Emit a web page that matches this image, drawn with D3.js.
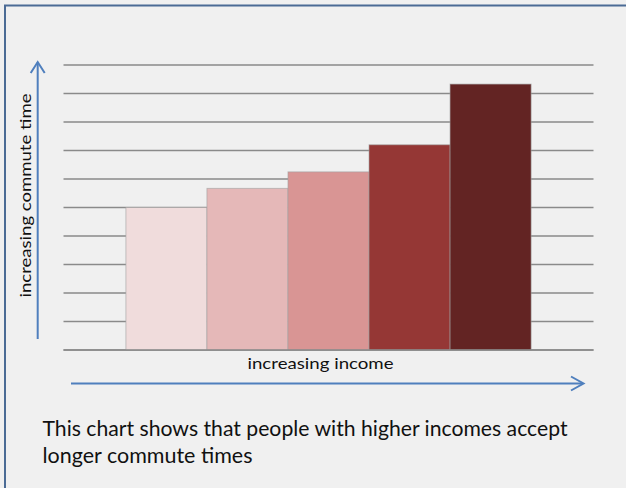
<!DOCTYPE html>
<html>
<head>
<meta charset="utf-8">
<script src="https://cdn.jsdelivr.net/npm/d3@7"></script>
<style>
  html, body { margin: 0; padding: 0; background: #f0f0f0; }
  svg { display: block; }
</style>
</head>
<body>
<script>
// ---- data ----
const categories = ["Income 1", "Income 2", "Income 3", "Income 4", "Income 5"];
const values = [5.0, 5.67, 6.25, 7.2, 9.33];
const barColors = ["#f0dcdc", "#e5b8b8", "#d99594", "#953735", "#632423"];
const gridTicks = [0, 1, 2, 3, 4, 5, 6, 7, 8, 9, 10];
const xLabel = "increasing income";
const yLabel = "increasing commute time";
const captionLines = ["This chart shows that people with higher incomes accept", "longer commute times"];

const W = 626, H = 488;
const FONT = "Lato, 'Open Sans', 'DejaVu Sans', sans-serif";

const svg = d3.select("body").append("svg")
  .attr("width", W).attr("height", H);

svg.append("rect").attr("width", W).attr("height", H).attr("fill", "#f0f0f0");

// border (left + top visible)
svg.append("rect")
  .attr("x", 5).attr("y", 5.5)
  .attr("width", W + 20).attr("height", H + 20)
  .attr("fill", "none").attr("stroke", "#4b6b95").attr("stroke-width", 2);

const x = d3.scaleBand().domain(categories)
  .range([63.5, 593.5]).paddingInner(0).paddingOuter(0.77);
const y = d3.scaleLinear().domain([0, 10]).range([350, 65]);

// gridlines
svg.append("g").selectAll("line").data(gridTicks).join("line")
  .attr("x1", 63.5).attr("x2", 593.5)
  .attr("y1", d => y(d)).attr("y2", d => y(d))
  .attr("stroke", "#8a8a8a").attr("stroke-width", 1.4);

// bars
svg.append("g").selectAll("rect").data(values).join("rect")
  .attr("x", (d, i) => x(categories[i]))
  .attr("y", d => y(d))
  .attr("width", x.bandwidth())
  .attr("height", d => y(0) - y(d))
  .attr("fill", (d, i) => barColors[i])
  .attr("stroke", "#a0a0a0").attr("stroke-opacity", 0.6).attr("stroke-width", 1);

// baseline redraw
svg.append("line")
  .attr("x1", 63.5).attr("x2", 593.5).attr("y1", y(0)).attr("y2", y(0))
  .attr("stroke", "#8a8a8a").attr("stroke-width", 1.4);

// arrows
const arrowColor = "#4f7fbd";
const ag = svg.append("g").attr("stroke", arrowColor).attr("stroke-width", 2)
  .attr("fill", "none").attr("stroke-linecap", "butt");
// vertical
ag.append("line").attr("x1", 37.7).attr("x2", 37.7).attr("y1", 339).attr("y2", 62.5);
ag.append("path").attr("d", "M30.7,73 L37.7,62 L44.7,73");
// horizontal
ag.append("line").attr("x1", 71).attr("x2", 583).attr("y1", 383.5).attr("y2", 383.5);
ag.append("path").attr("d", "M571,376.5 L583.5,383.5 L571,390.5");

// axis labels
svg.append("text")
  .attr("x", 320.5).attr("y", 368.5)
  .attr("text-anchor", "middle")
  .attr("font-family", FONT).attr("font-size", 16).attr("fill", "#111")
  .attr("textLength", 146).attr("lengthAdjust", "spacingAndGlyphs")
  .text(xLabel);

svg.append("text")
  .attr("transform", "translate(30.5,195.5) rotate(-90)")
  .attr("text-anchor", "middle")
  .attr("font-family", FONT).attr("font-size", 16).attr("fill", "#111")
  .attr("textLength", 204).attr("lengthAdjust", "spacingAndGlyphs")
  .text(yLabel);

// caption
svg.append("text")
  .attr("x", 42.5).attr("y", 436)
  .attr("font-family", FONT).attr("font-size", 21).attr("fill", "#111")
  .attr("textLength", 525).attr("lengthAdjust", "spacingAndGlyphs")
  .text(captionLines[0]);
svg.append("text")
  .attr("x", 42.5).attr("y", 463)
  .attr("font-family", FONT).attr("font-size", 21).attr("fill", "#111")
  .attr("textLength", 210).attr("lengthAdjust", "spacingAndGlyphs")
  .text(captionLines[1]);
</script>
</body>
</html>
